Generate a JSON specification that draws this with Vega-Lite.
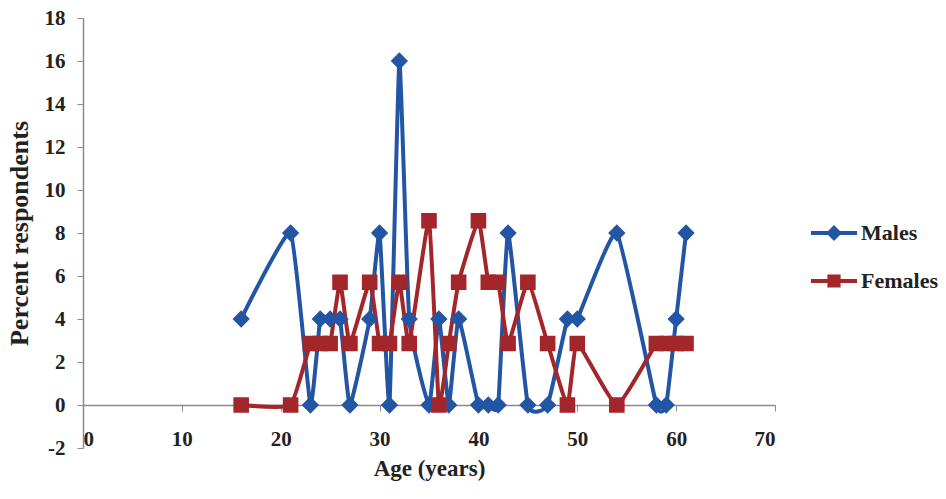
{
  "$schema": "https://vega.github.io/schema/vega-lite/v6.json",
  "width": 692,
  "height": 430,
  "autosize": {"type": "none"},
  "padding": {"left": 83, "top": 18, "right": 171, "bottom": 51},
  "background": "white",
  "config": {"view": {"stroke": null}, "font": "Liberation Serif"},
  "data": {
    "values": [
      {"age": 16, "pct": 4, "sex": "Males"},
      {"age": 21, "pct": 8, "sex": "Males"},
      {"age": 23, "pct": 0, "sex": "Males"},
      {"age": 24, "pct": 4, "sex": "Males"},
      {"age": 25, "pct": 4, "sex": "Males"},
      {"age": 26, "pct": 4, "sex": "Males"},
      {"age": 27, "pct": 0, "sex": "Males"},
      {"age": 29, "pct": 4, "sex": "Males"},
      {"age": 30, "pct": 8, "sex": "Males"},
      {"age": 31, "pct": 0, "sex": "Males"},
      {"age": 32, "pct": 16, "sex": "Males"},
      {"age": 33, "pct": 4, "sex": "Males"},
      {"age": 35, "pct": 0, "sex": "Males"},
      {"age": 36, "pct": 4, "sex": "Males"},
      {"age": 37, "pct": 0, "sex": "Males"},
      {"age": 38, "pct": 4, "sex": "Males"},
      {"age": 40, "pct": 0, "sex": "Males"},
      {"age": 41, "pct": 0, "sex": "Males"},
      {"age": 42, "pct": 0, "sex": "Males"},
      {"age": 43, "pct": 8, "sex": "Males"},
      {"age": 45, "pct": 0, "sex": "Males"},
      {"age": 47, "pct": 0, "sex": "Males"},
      {"age": 49, "pct": 4, "sex": "Males"},
      {"age": 50, "pct": 4, "sex": "Males"},
      {"age": 54, "pct": 8, "sex": "Males"},
      {"age": 58, "pct": 0, "sex": "Males"},
      {"age": 59, "pct": 0, "sex": "Males"},
      {"age": 60, "pct": 4, "sex": "Males"},
      {"age": 61, "pct": 8, "sex": "Males"},
      {"age": 16, "pct": 0, "sex": "Females"},
      {"age": 21, "pct": 0, "sex": "Females"},
      {"age": 23, "pct": 2.86, "sex": "Females"},
      {"age": 24, "pct": 2.86, "sex": "Females"},
      {"age": 25, "pct": 2.86, "sex": "Females"},
      {"age": 26, "pct": 5.71, "sex": "Females"},
      {"age": 27, "pct": 2.86, "sex": "Females"},
      {"age": 29, "pct": 5.71, "sex": "Females"},
      {"age": 30, "pct": 2.86, "sex": "Females"},
      {"age": 31, "pct": 2.86, "sex": "Females"},
      {"age": 32, "pct": 5.71, "sex": "Females"},
      {"age": 33, "pct": 2.86, "sex": "Females"},
      {"age": 35, "pct": 8.57, "sex": "Females"},
      {"age": 36, "pct": 0, "sex": "Females"},
      {"age": 37, "pct": 2.86, "sex": "Females"},
      {"age": 38, "pct": 5.71, "sex": "Females"},
      {"age": 40, "pct": 8.57, "sex": "Females"},
      {"age": 41, "pct": 5.71, "sex": "Females"},
      {"age": 42, "pct": 5.71, "sex": "Females"},
      {"age": 43, "pct": 2.86, "sex": "Females"},
      {"age": 45, "pct": 5.71, "sex": "Females"},
      {"age": 47, "pct": 2.86, "sex": "Females"},
      {"age": 49, "pct": 0, "sex": "Females"},
      {"age": 50, "pct": 2.86, "sex": "Females"},
      {"age": 54, "pct": 0, "sex": "Females"},
      {"age": 58, "pct": 2.86, "sex": "Females"},
      {"age": 59, "pct": 2.86, "sex": "Females"},
      {"age": 60, "pct": 2.86, "sex": "Females"},
      {"age": 61, "pct": 2.86, "sex": "Females"}
    ]
  },
  "encoding": {
    "x": {
      "field": "age",
      "type": "quantitative",
      "scale": {"domain": [0, 70], "nice": false, "zero": false},
      "axis": {
        "values": [0, 10, 20, 30, 40, 50, 60, 70],
        "grid": false,
        "offset": -43,
        "domainColor": "#8a8a8a",
        "domainWidth": 1.5,
        "tickColor": "#8a8a8a",
        "tickSize": 6,
        "labelFont": "Liberation Serif",
        "labelFontSize": 21,
        "labelFontWeight": "bold",
        "labelColor": "#222222",
        "labelPadding": 17,
        "title": "Age (years)",
        "titleFont": "Liberation Serif",
        "titleFontSize": 23,
        "titleFontWeight": "bold",
        "titleColor": "#222222",
        "titlePadding": 8
      }
    },
    "y": {
      "field": "pct",
      "type": "quantitative",
      "scale": {"domain": [-2, 18], "nice": false, "zero": false},
      "axis": {
        "values": [-2, 0, 2, 4, 6, 8, 10, 12, 14, 16, 18],
        "labelExpr": "datum.value < 0 ? '-' + abs(datum.value) : datum.label",
        "grid": false,
        "domainColor": "#8a8a8a",
        "domainWidth": 1.5,
        "tickColor": "#8a8a8a",
        "tickSize": 6,
        "labelFont": "Liberation Serif",
        "labelFontSize": 21,
        "labelFontWeight": "bold",
        "labelColor": "#222222",
        "labelPadding": 12,
        "title": "Percent respondents",
        "titleFont": "Liberation Serif",
        "titleFontSize": 26,
        "titleFontWeight": "bold",
        "titleColor": "#222222",
        "titlePadding": 12
      }
    }
  },
  "layer": [
    {
      "mark": {"type": "line", "interpolate": "cardinal", "tension": 0.6, "strokeWidth": 4},
      "encoding": {
        "color": {
          "field": "sex",
          "type": "nominal",
          "scale": {"domain": ["Males", "Females"], "range": ["#2255A4", "#A3262A"]}
        }
      }
    },
    {
      "mark": {"type": "point", "filled": true, "opacity": 1, "size": 300},
      "encoding": {
        "color": {
          "field": "sex",
          "type": "nominal",
          "scale": {"domain": ["Males", "Females"], "range": ["#2255A4", "#A3262A"]},
          "legend": {
            "title": null,
            "orient": "none",
            "legendX": 740,
            "legendY": 204,
            "labelFont": "Liberation Serif",
            "labelFontSize": 22,
            "labelFontWeight": "bold",
            "labelColor": "#222222",
            "symbolSize": 105,
            "symbolStrokeWidth": 4,
            "labelOffset": 16,
            "rowPadding": 21,
            "encode": {
              "symbols": {
                "update": {
                  "stroke": {"scale": "color", "field": "value"},
                  "strokeWidth": {"value": 4}
                }
              }
            }
          }
        },
        "shape": {
          "field": "sex",
          "type": "nominal",
          "scale": {
            "domain": ["Males", "Females"],
            "range": ["M-4.5,0L4.5,0M0,-1L1,0L0,1L-1,0Z", "M-4.5,0L4.5,0M-0.9,-0.9L0.9,-0.9L0.9,0.9L-0.9,0.9Z"]
          }
        }
      }
    }
  ]
}
